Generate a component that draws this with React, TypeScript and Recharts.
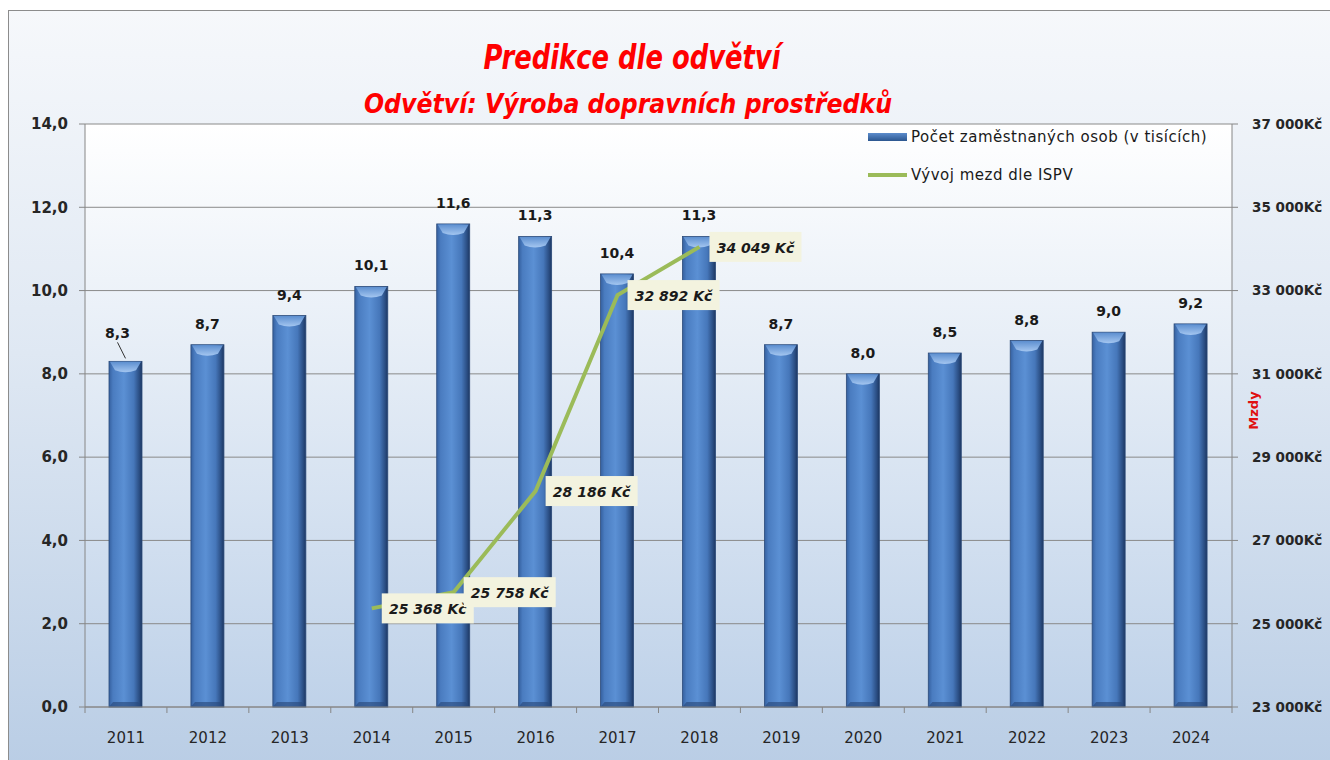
import React from 'react';
import { ComposedChart, Bar, Line, XAxis, YAxis, CartesianGrid, LabelList } from 'recharts';

const years = ['2011', '2012', '2013', '2014', '2015', '2016', '2017', '2018', '2019', '2020', '2021', '2022', '2023', '2024'];
const employees = [8.3, 8.7, 9.4, 10.1, 11.6, 11.3, 10.4, 11.3, 8.7, 8.0, 8.5, 8.8, 9.0, 9.2];
const wages: (number | null)[] = [null, null, null, 25368, 25758, 28186, 32892, 34049, null, null, null, null, null, null];
const leftTicks = [0, 2, 4, 6, 8, 10, 12, 14];
const rightTicks = [23000, 25000, 27000, 29000, 31000, 33000, 35000, 37000];

const title = 'Predikce dle odvětví';
const subtitle = 'Odvětví: Výroba dopravních prostředků';
const seriesNames = ['Počet zaměstnaných osob (v tisících)', 'Vývoj mezd dle ISPV'];
const rightAxisTitle = 'Mzdy';

const data = years.map((y, i) => ({ year: y, emp: employees[i], wage: wages[i] }));

const FONT = "'DejaVu Sans', 'Liberation Sans', sans-serif";
const TITLE_FONT = "'Liberation Sans Narrow', 'DejaVu Sans Condensed', 'Liberation Sans', sans-serif";

const fmtDec = (v: number) => v.toFixed(1).replace('.', ',');
const fmtKc = (v: number) => {
  const s = Math.round(v).toString();
  return s.slice(0, s.length - 3) + ' ' + s.slice(s.length - 3);
};

const Cylinder = (props: any) => {
  const { x, y, width, height } = props;
  if (!height || height <= 0) return null;
  const cap = Math.min(9, height / 2);
  return (
    <g>
      <rect x={x} y={y} width={width} height={height} fill="url(#barGrad)" stroke="#2c4b7a" strokeWidth={0.8} />
      <path
        d={`M${x + 1},${y + 0.5} L${x + width - 1},${y + 0.5} L${x + width - 6},${y + cap} Q${x + width / 2},${y + cap + 4} ${x + 6},${y + cap} Z`}
        fill="url(#capGrad)"
      />
      <polygon
        points={`${x},${y + height} ${x + width},${y + height} ${x + width - 4},${y + height - 5} ${x + 4},${y + height - 5}`}
        fill="#2a4a7c"
        opacity={0.65}
      />
    </g>
  );
};

const BarValueLabel = (props: any) => {
  const { x, y, width, value, index } = props;
  const cx = x + width / 2;
  if (index === 0) {
    return (
      <g>
        <line x1={cx - 8} y1={y - 19} x2={cx} y2={y - 3} stroke="#333" strokeWidth={1} />
        <text x={cx - 8} y={y - 23} textAnchor="middle" fontFamily={FONT} fontWeight="bold" fontSize={14} fill="#1a1a1a">
          {fmtDec(value)}
        </text>
      </g>
    );
  }
  return (
    <text x={cx} y={y - 16} textAnchor="middle" fontFamily={FONT} fontWeight="bold" fontSize={14} fill="#1a1a1a">
      {fmtDec(value)}
    </text>
  );
};

const WageLabel = (props: any) => {
  const { x, y, value } = props;
  if (value == null) return null;
  return (
    <g>
      <rect x={x + 10} y={y - 15} width={92} height={30} fill="#f3f3df" />
      <text
        x={x + 56}
        y={y + 6}
        textAnchor="middle"
        fontFamily={FONT}
        fontWeight="bold"
        fontStyle="italic"
        fontSize={14}
        fill="#1a1a1a"
      >
        {fmtKc(value) + ' Kč'}
      </text>
    </g>
  );
};

const XTick = (props: any) => {
  const { x, y, payload, width, visibleTicksCount, index } = props;
  const bw = width / visibleTicksCount;
  return (
    <g>
      <line x1={x - bw / 2} y1={y - 8} x2={x - bw / 2} y2={y - 2} stroke="#868686" />
      {index === visibleTicksCount - 1 && (
        <line x1={x + bw / 2} y1={y - 8} x2={x + bw / 2} y2={y - 2} stroke="#868686" />
      )}
      <text x={x} y={y + 28} textAnchor="middle" fontFamily={FONT} fontSize={15} fill="#262626">
        {payload.value}
      </text>
    </g>
  );
};

const LegendBox = () => (
  <div
    style={{
      position: 'absolute',
      left: 862,
      top: 126,
      fontFamily: FONT,
      fontSize: 15,
      letterSpacing: 0.5,
      color: '#1a1a1a',
      width: 368,
      height: 76,
    }}
  >
    <div style={{ display: 'flex', alignItems: 'center', height: 22 }}>
      <div style={{ width: 39, height: 8, marginLeft: 6, background: 'linear-gradient(to bottom, #5c8ccc, #2b568f)' }} />
      <span style={{ marginLeft: 4 }}>{seriesNames[0]}</span>
    </div>
    <div style={{ display: 'flex', alignItems: 'center', height: 22, marginTop: 16 }}>
      <div style={{ width: 39, height: 4, marginLeft: 6, background: '#9bbb59' }} />
      <span style={{ marginLeft: 4 }}>{seriesNames[1]}</span>
    </div>
  </div>
);

export default function App() {
  return (
    <div style={{ position: 'fixed', left: 0, top: 0, width: 1330, height: 760, background: '#ffffff', overflow: 'hidden' }}>
      <svg width={0} height={0} style={{ position: 'absolute' }}>
        <defs>
          <linearGradient id="barGrad" x1="0" y1="0" x2="1" y2="0">
            <stop offset="0%" stopColor="#35609f" />
            <stop offset="12%" stopColor="#4a7cc0" />
            <stop offset="45%" stopColor="#5b90d4" />
            <stop offset="75%" stopColor="#4677ba" />
            <stop offset="92%" stopColor="#2a4d82" />
            <stop offset="100%" stopColor="#1d3762" />
          </linearGradient>
          <linearGradient id="capGrad" x1="0" y1="0" x2="0" y2="1">
            <stop offset="0%" stopColor="#5d8fd0" />
            <stop offset="100%" stopColor="#a4c6f0" />
          </linearGradient>
          <linearGradient id="plotGrad" x1="0" y1="0" x2="0" y2="1">
            <stop offset="0%" stopColor="#ffffff" />
            <stop offset="100%" stopColor="#bfd2e9" />
          </linearGradient>
        </defs>
      </svg>
      <div
        style={{
          position: 'absolute',
          left: 8,
          top: 10,
          width: 1330,
          height: 760,
          borderLeft: '1px solid #8c8c8c',
          borderTop: '1px solid #8c8c8c',
          background: 'linear-gradient(to bottom, #f6f8fb 0%, #dfe8f3 45%, #b9cde5 100%)',
        }}
      />
      <svg width={1330} height={130} style={{ position: 'absolute', left: 0, top: 0 }}>
        <text
          x={632}
          y={69}
          textAnchor="middle"
          fontFamily={TITLE_FONT}
          fontWeight="bold"
          fontStyle="italic"
          fontSize={33}
          fill="#ff0000"
          textLength={297}
          lengthAdjust="spacingAndGlyphs"
        >
          {title}
        </text>
        <text
          x={628}
          y={113}
          textAnchor="middle"
          fontFamily={TITLE_FONT}
          fontWeight="bold"
          fontStyle="italic"
          fontSize={27}
          fill="#ff0000"
          textLength={528}
          lengthAdjust="spacingAndGlyphs"
        >
          {subtitle}
        </text>
      </svg>
      <div style={{ position: 'absolute', left: 0, top: 0 }}>
        <ComposedChart width={1330} height={760} data={data} margin={{ top: 124, right: 0, bottom: 23, left: 0 }}>
          <CartesianGrid yAxisId="l" vertical={false} stroke="#8a8a8a" fill="url(#plotGrad)" />
          <XAxis
            dataKey="year"
            height={30}
            axisLine={{ stroke: '#868686' }}
            tickLine={false}
            tick={<XTick />}
            interval={0}
          />
          <YAxis
            yAxisId="l"
            width={85}
            domain={[0, 14]}
            ticks={leftTicks}
            tickFormatter={fmtDec}
            axisLine={{ stroke: '#868686' }}
            tickLine={{ stroke: '#868686' }}
            tickSize={6}
            tick={{ fontFamily: FONT, fontWeight: 'bold', fontSize: 15, fill: '#262626', dx: -9 }}
          />
          <YAxis
            yAxisId="r"
            orientation="right"
            width={98}
            domain={[23000, 37000]}
            ticks={rightTicks}
            tickFormatter={(v: number) => fmtKc(v) + 'Kč'}
            axisLine={{ stroke: '#868686' }}
            tickLine={{ stroke: '#868686' }}
            tickSize={6}
            tick={{ fontFamily: FONT, fontWeight: 'bold', fontSize: 13.5, fill: '#262626', dx: 12 }}
            label={(p: any) => {
              const vb = p.viewBox;
              const cx = vb.x + 22;
              const cy = vb.y + vb.height / 2 - 5;
              return (
                <text
                  x={cx}
                  y={cy}
                  transform={`rotate(-90 ${cx} ${cy})`}
                  textAnchor="middle"
                  dominantBaseline="middle"
                  fontFamily={FONT}
                  fontWeight="bold"
                  fontSize={13}
                  fill="#e01010"
                >
                  {rightAxisTitle}
                </text>
              );
            }}
          />
          <Bar yAxisId="l" dataKey="emp" name={seriesNames[0]} barSize={33} shape={<Cylinder />} isAnimationActive={false}>
            <LabelList dataKey="emp" content={<BarValueLabel />} />
          </Bar>
          <Line
            yAxisId="r"
            dataKey="wage"
            name={seriesNames[1]}
            stroke="#9bbb59"
            strokeWidth={4}
            dot={false}
            activeDot={false}
            connectNulls={false}
            isAnimationActive={false}
          >
            <LabelList dataKey="wage" content={<WageLabel />} />
          </Line>
        </ComposedChart>
      </div>
      <LegendBox />
    </div>
  );
}
